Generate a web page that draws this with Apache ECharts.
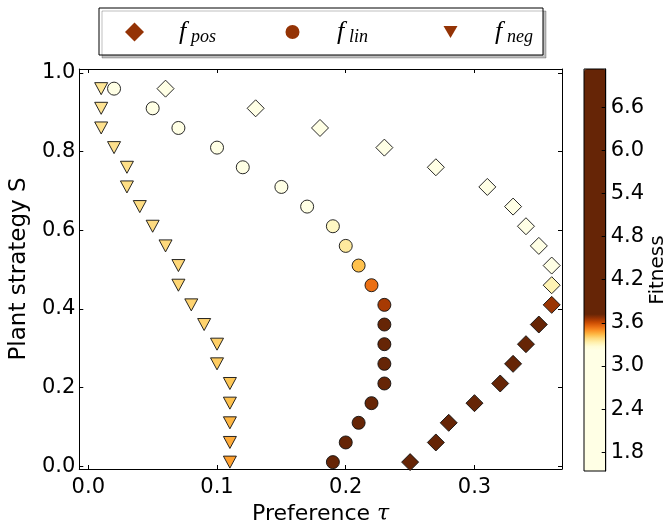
<!DOCTYPE html>
<html>
<head>
<meta charset="utf-8">
<script src="https://cdn.jsdelivr.net/npm/echarts@6/dist/echarts.min.js"></script>
<style>html,body{margin:0;padding:0;background:#fff}#c{width:669px;height:530px}</style>
</head>
<body>
<div id="c"></div>
<script>
// ---- data ----
const strategyS = [0.96,0.91,0.86,0.81,0.76,0.71,0.66,0.61,0.56,0.51,0.46,0.41,0.36,0.31,0.26,0.21,0.16,0.11,0.06,0.01];
const tauPos = [0.06,0.13,0.18,0.23,0.27,0.31,0.33,0.34,0.35,0.36,0.36,0.36,0.35,0.34,0.33,0.32,0.30,0.28,0.27,0.25];
const fitPos = [1.54,1.70,1.90,2.10,2.30,2.50,2.70,2.90,3.05,3.20,3.32,3.66,3.90,4.30,4.80,5.30,5.80,6.30,6.70,7.13];
const tauLin = [0.02,0.05,0.07,0.10,0.12,0.15,0.17,0.19,0.20,0.21,0.22,0.23,0.23,0.23,0.23,0.23,0.22,0.21,0.20,0.19];
const fitLin = [1.60,1.80,2.00,2.20,2.40,2.60,2.90,3.30,3.35,3.43,3.545,3.645,3.80,3.90,4.00,4.10,4.30,4.50,4.70,4.90];
const tauNeg = [0.01,0.01,0.01,0.02,0.03,0.03,0.04,0.05,0.06,0.07,0.07,0.08,0.09,0.10,0.10,0.11,0.11,0.11,0.11,0.11];
const fitNeg = [3.360,3.365,3.370,3.372,3.375,3.378,3.380,3.383,3.386,3.390,3.393,3.397,3.400,3.405,3.410,3.420,3.430,3.445,3.460,3.475];
const xTicks = [0.0,0.1,0.2,0.3];
const yTicks = [0.0,0.2,0.4,0.6,0.8,1.0];
const fitTicks = [1.8,2.4,3.0,3.6,4.2,4.8,5.4,6.0,6.6];
const fitMin = 1.54, fitMax = 7.13;
const seriesNames = ['pos','lin','neg'];

// ---- colormap (YlOrBr, clipped) ----
const ylorbr = ['#ffffe5','#fff7bc','#fee391','#fec44f','#fe9929','#ec7014','#cc4c02','#993404','#662506'];
const cLow = 3.25, cHigh = 3.72;
function hex2rgb(h){return [parseInt(h.slice(1,3),16),parseInt(h.slice(3,5),16),parseInt(h.slice(5,7),16)];}
function cmap(v){
  let t = (v - cLow) / (cHigh - cLow);
  t = Math.max(0, Math.min(1, t)) * (ylorbr.length - 1);
  const i = Math.min(Math.floor(t), ylorbr.length - 2), f = t - i;
  const a = hex2rgb(ylorbr[i]), b = hex2rgb(ylorbr[i+1]);
  const c = a.map((x,k)=>Math.round(x + (b[k]-x)*f));
  return 'rgb(' + c.join(',') + ')';
}
const N = 600;
const vmColors = [];
for (let k = 0; k <= N; k++) vmColors.push(cmap(fitMin + (fitMax - fitMin) * k / N));

function pts(taus, fits){ return taus.map((t,i)=>[t, strategyS[i], fits[i]]); }

const chart = echarts.init(document.getElementById('c'), null, {renderer:'canvas'});
const black = '#000';
const tickFont = {fontFamily:'DejaVu Sans', fontSize:21, color:black};
const mark = {borderColor:'#111', borderWidth:0.9, opacity:1};
const legendColor = '#943305';
const iconDiamond = 'path://M9.5,0L19,9.5L9.5,19L0,9.5Z';
const iconCircle = 'path://M0,0L0,0M19,19L19,19M9.5,2.5A7,7,0,1,1,9.49,2.5Z';
const iconTri = 'path://M0,0L0,0M19,19L19,19M2.5,3.5L16.5,3.5L9.5,15.5Z';

const option = {
  animation: false,
  backgroundColor: '#fff',
  textStyle: {fontFamily:'DejaVu Sans'},
  grid: [
    {left:77, top:69, width:485, height:404, show:false},
    {left:584, top:69, width:22, height:402, show:true, borderColor:black, borderWidth:1, backgroundColor:'transparent', z:10}
  ],
  legend: {
    left: 99, top: 8,
    orient: 'horizontal',
    padding: [10, 8, 9, 26],
    itemWidth: 19, itemHeight: 19,
    itemGap: 64,
    symbolKeepAspect: true,
    backgroundColor: '#fff',
    borderColor: black, borderWidth: 1, borderRadius: 0,
    shadowColor: 'rgba(0,0,0,0.25)', shadowBlur: 0, shadowOffsetX: 3, shadowOffsetY: 3,
    data: [
      {name: seriesNames[0], icon: iconDiamond, itemStyle:{color:legendColor, borderWidth:0, opacity:1}},
      {name: seriesNames[1], icon: iconCircle, itemStyle:{color:legendColor, borderWidth:0, opacity:1}},
      {name: seriesNames[2], icon: iconTri, itemStyle:{color:legendColor, borderWidth:0, opacity:1}}
    ],
    formatter: n => '{g|}{f|f}{s|' + n + '}',
    textStyle: {
      rich: {
        g: {width: 30, height: 26},
        f: {fontFamily:'Liberation Serif', fontStyle:'italic', fontSize:26, lineHeight:26, width:12, color:black},
        s: {fontFamily:'Liberation Serif', fontStyle:'italic', fontSize:18, lineHeight:18, padding:[10,0,0,0], width:28, color:black}
      }
    },
    selectedMode: false
  },
  visualMap: {
    type: 'continuous',
    min: fitMin, max: fitMax,
    dimension: 2,
    seriesIndex: [0,1,2],
    calculable: false,
    show: true,
    left: 584, top: 69,
    padding: 0,
    itemWidth: 22, itemHeight: 402,
    text: null,
    hoverLink: false,
    inRange: {color: vmColors, opacity: 1},
    z: 2
  },
  xAxis: [
    {type:'value', gridIndex:0, position:'bottom', min:-0.007, max:0.368,
     axisLine:{show:true, onZero:false, lineStyle:{color:black, width:1}},
     axisTick:{show:true, inside:true, length:4, customValues:xTicks, lineStyle:{color:black}},
     axisLabel:{customValues:xTicks, formatter:v=>v.toFixed(1), margin:8, ...tickFont},
     splitLine:{show:false},
     name:'Preference {t|τ}', nameLocation:'middle', nameGap:34,
     nameTextStyle:{fontFamily:'DejaVu Sans', fontSize:22, color:black,
       rich:{t:{fontFamily:'DejaVu Serif', fontStyle:'italic', fontSize:22, color:black}}}},
    {type:'value', gridIndex:0, position:'top', min:-0.007, max:0.368,
     axisLine:{show:true, onZero:false, lineStyle:{color:black, width:1}},
     axisTick:{show:true, inside:true, length:4, customValues:xTicks, lineStyle:{color:black}},
     axisLabel:{show:false}, splitLine:{show:false}},
    {type:'value', gridIndex:1, show:false, min:0, max:1}
  ],
  yAxis: [
    {type:'value', gridIndex:0, position:'left', min:-0.0075, max:1.01,
     axisLine:{show:true, onZero:false, lineStyle:{color:black, width:1}},
     axisTick:{show:true, inside:true, length:4, customValues:yTicks, lineStyle:{color:black}},
     axisLabel:{customValues:yTicks, formatter:v=>v.toFixed(1), margin:4, ...tickFont},
     splitLine:{show:false},
     name:'Plant strategy S', nameLocation:'middle', nameGap:44, nameRotate:90,
     nameTextStyle:{fontFamily:'DejaVu Sans', fontSize:23, color:black}},
    {type:'value', gridIndex:0, position:'right', min:-0.0075, max:1.01,
     axisLine:{show:true, onZero:false, lineStyle:{color:black, width:1}},
     axisTick:{show:true, inside:true, length:4, customValues:yTicks, lineStyle:{color:black}},
     axisLabel:{show:false}, splitLine:{show:false}},
    {type:'value', gridIndex:1, position:'right', min:fitMin, max:fitMax, z:10,
     axisLine:{show:true, onZero:false, lineStyle:{color:black, width:1}},
     axisTick:{show:true, inside:true, length:4, customValues:fitTicks, lineStyle:{color:black}},
     axisLabel:{customValues:fitTicks, formatter:v=>v.toFixed(1), margin:5, ...tickFont},
     splitLine:{show:false},
     name:'Fitness', nameLocation:'middle', nameGap:42, nameRotate:90,
     nameTextStyle:{fontFamily:'DejaVu Sans', fontSize:20, color:black}}
  ],
  series: [
    {name:seriesNames[0], type:'scatter', xAxisIndex:0, yAxisIndex:0, symbol:'diamond', symbolSize:17,
     itemStyle:mark, data:pts(tauPos, fitPos), z:3},
    {name:seriesNames[1], type:'scatter', xAxisIndex:0, yAxisIndex:0, symbol:'circle', symbolSize:13,
     itemStyle:mark, data:pts(tauLin, fitLin), z:3},
    {name:seriesNames[2], type:'scatter', xAxisIndex:0, yAxisIndex:0, symbol:'path://M0,0L2,0L1,1.8Z', symbolSize:[13,12],
     itemStyle:mark, data:pts(tauNeg, fitNeg), z:3}
  ]
};
chart.setOption(option);
</script>
</body>
</html>
